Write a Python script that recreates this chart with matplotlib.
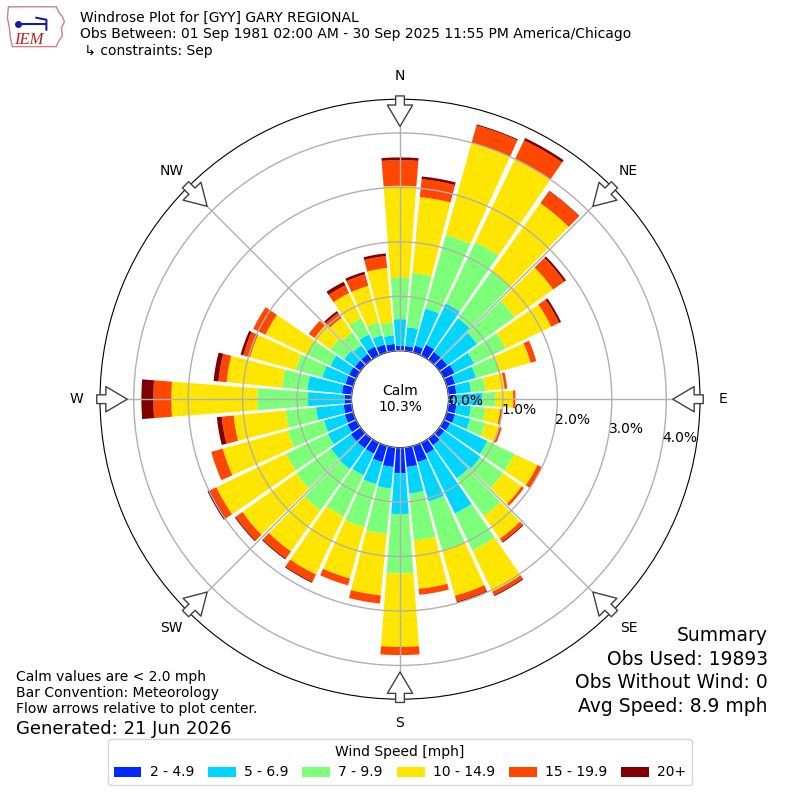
import numpy as np
import matplotlib
matplotlib.use('Agg')
import matplotlib.pyplot as plt
from matplotlib.patches import Patch, Polygon

# direction bins (degrees, meteorological, 10 deg each)
directions = np.arange(0, 360, 10)

# frequency (%) per speed bin for each direction
spd_2_5 = [0.09, 0.09, 0.13, 0.22, 0.18, 0.18, 0.22, 0.16, 0.15, 0.09, 0.15, 0.16,
           0.13, 0.11, 0.15, 0.22, 0.31, 0.36, 0.47, 0.36, 0.31, 0.22, 0.22, 0.22,
           0.18, 0.16, 0.15, 0.13, 0.18, 0.15, 0.15, 0.13, 0.13, 0.18, 0.15, 0.13]
spd_5_7 = [0.49, 0.35, 0.71, 0.84, 0.76, 0.67, 0.40, 0.40, 0.27, 0.53, 0.27, 0.29,
           0.76, 0.82, 0.75, 1.22, 0.75, 0.49, 0.75, 0.40, 0.42, 0.44, 0.47, 0.45,
           0.40, 0.40, 0.51, 0.67, 0.64, 0.44, 0.38, 0.24, 0.20, 0.25, 0.18, 0.16]
spd_7_10 = [0.76, 1.00, 1.40, 1.25, 1.05, 0.85, 0.64, 0.44, 0.27, 0.24, 0.27, 0.29,
            0.55, 0.51, 0.85, 0.75, 0.93, 0.87, 1.09, 0.84, 0.82, 0.84, 0.93, 0.78,
            0.85, 0.69, 0.56, 0.93, 0.47, 0.51, 0.47, 0.31, 0.29, 0.33, 0.25, 0.24]
spd_10_15 = [1.69, 1.40, 1.76, 1.69, 1.55, 0.87, 0.93, 0.60, 0.35, 0.33, 0.27, 0.27,
             0.47, 0.42, 0.51, 0.84, 0.87, 0.89, 1.35, 1.13, 0.98, 1.18, 0.93, 1.22,
             1.42, 1.24, 0.96, 1.58, 1.02, 0.87, 0.85, 0.36, 0.33, 0.51, 0.69, 1.00]
spd_15_20 = [0.47, 0.33, 0.33, 0.38, 0.27, 0.25, 0.16, 0.11, 0.05, 0.04, 0.04, 0.04,
             0.09, 0.05, 0.07, 0.07, 0.11, 0.11, 0.15, 0.15, 0.13, 0.15, 0.16, 0.15,
             0.13, 0.22, 0.22, 0.33, 0.15, 0.13, 0.25, 0.13, 0.11, 0.16, 0.22, 0.22]
spd_20 = [0.05, 0.05, 0.02, 0.05, 0.01, 0.04, 0.04, 0.00, 0.00, 0.00, 0.00, 0.00,
          0.00, 0.00, 0.02, 0.02, 0.02, 0.00, 0.00, 0.00, 0.00, 0.02, 0.02, 0.02,
          0.05, 0.00, 0.09, 0.22, 0.09, 0.05, 0.00, 0.00, 0.04, 0.07, 0.05, 0.05]

speed_labels = ['2 - 4.9', '5 - 6.9', '7 - 9.9', '10 - 14.9', '15 - 19.9', '20+']
calm_pct = 10.3
ring_ticks = [0, 1, 2, 3, 4]
compass = ['N', 'NE', 'E', 'SE', 'S', 'SW', 'W', 'NW']
summary = ['Summary', 'Obs Used: 19893', 'Obs Without Wind: 0', 'Avg Speed: 8.9 mph']

bins = [spd_2_5, spd_5_7, spd_7_10, spd_10_15, spd_15_20, spd_20]
colors = plt.cm.jet(np.linspace(0, 1, 7)[1:])

fig = plt.figure(figsize=(8, 8), dpi=100)
ax = fig.add_axes([0.125, 0.126, 0.75, 0.75], projection='polar')
ax.set_theta_zero_location('N')
ax.set_theta_direction(-1)

theta = np.deg2rad(directions)
width = np.deg2rad(8.8)
bottom = np.zeros(len(directions))
for vals, col in zip(bins, colors):
    ax.bar(theta, vals, width=width, bottom=bottom, color=col, edgecolor='none',
           linewidth=0, zorder=2)
    bottom = bottom + np.array(vals)

ax.set_rorigin(-0.89)
ax.set_ylim(0, 4.62)
ax.set_rgrids(ring_ticks, labels=['%.1f%%' % t for t in ring_ticks], fontsize=10)
ax.set_rlabel_position(100)
ax.set_thetagrids(np.arange(0, 360, 45), labels=[''] * 8)
ax.grid(True, color='#b0b0b0', linewidth=1, zorder=3)
ax.set_axisbelow(False)
ax.spines['polar'].set_color('black')

# compass labels and flow arrows
for ang, lab in zip(np.arange(0, 360, 45), compass):
    t = np.deg2rad(ang)
    ax.text(t, 5.05, lab, ha='center', va='center', fontsize=10, clip_on=False)
    ax.annotate('', xy=(t, 4.12), xytext=(t, 4.68), xycoords='data',
                arrowprops=dict(arrowstyle='simple,head_length=1.1,head_width=1.3,tail_width=0.45',
                                fc='white', ec='#404040', lw=1, shrinkA=0, shrinkB=0,
                                mutation_scale=14),
                annotation_clip=False, zorder=5)

ax.text(0, -0.89, 'Calm\n%.1f%%' % calm_pct, ha='center', va='center', fontsize=10)

# header
fig.text(0.1, 0.986, 'Windrose Plot for [GYY] GARY REGIONAL\n'
         'Obs Between: 01 Sep 1981 02:00 AM - 30 Sep 2025 11:55 PM America/Chicago\n'
         ' \u21b3 constraints: Sep', ha='left', va='top', fontsize=10, linespacing=1.2)

# logo
lax = fig.add_axes([0.008, 0.938, 0.075, 0.056])
lax.set_xlim(0, 60)
lax.set_ylim(0, 45)
lax.axis('off')
outline = [(2, 43), (50, 43), (52, 38), (56, 33), (58, 28), (55, 22), (56, 14), (52, 8),
           (50, 3), (6, 3), (4, 12), (3, 22), (1, 32)]
lax.add_patch(Polygon(outline, closed=True, fill=False, ec='#d08080', lw=1))
lax.plot([12, 40], [26, 26], color='#1a1aa0', lw=1.5)
lax.plot([30, 40, 40], [32, 30, 20], color='#1a1aa0', lw=1.5)
lax.plot([12], [26], 'o', color='#1a1aa0', ms=4)
lax.text(8, 6, 'IEM', color='#c02020', fontsize=12, style='italic', family='Liberation Serif')

# footer notes
fig.text(0.02, 0.163, 'Calm values are < 2.0 mph\nBar Convention: Meteorology\n'
         'Flow arrows relative to plot center.', ha='left', va='top', fontsize=10,
         linespacing=1.2)
fig.text(0.02, 0.089, 'Generated: 21 Jun 2026', ha='left', va='center', fontsize=13)
for i, line in enumerate(summary):
    fig.text(0.96, 0.206 - i * 0.0298, line, ha='right', va='center', fontsize=13.5)

handles = [Patch(facecolor=c, edgecolor='none') for c in colors]
fig.legend(handles, speed_labels, loc='lower center', bbox_to_anchor=(0.5, 0.01), ncol=6,
           title='Wind Speed [mph]', fontsize=10, title_fontsize=10, handlelength=2.0,
           handleheight=0.7, handletextpad=0.6, columnspacing=1.0, edgecolor='#cccccc')

fig.savefig('out.png', dpi=100)
